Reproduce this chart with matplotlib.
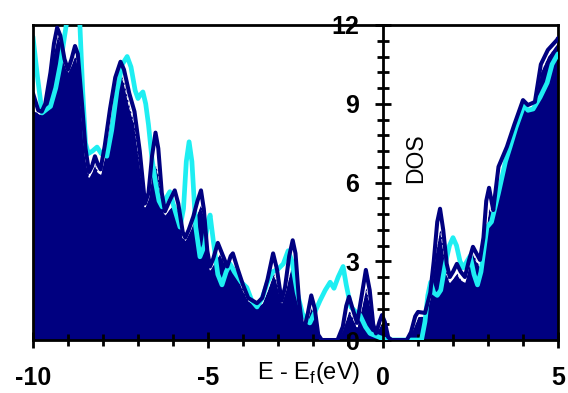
import matplotlib
matplotlib.use("Agg")
import matplotlib.pyplot as plt
from matplotlib.ticker import MultipleLocator

# ---- data ----
navy_x = [-10.0, -9.85, -9.75, -9.65, -9.5, -9.4, -9.31, -9.22, -9.1, -9.0, -8.9, -8.8, -8.72, -8.6, -8.5,
          -8.4, -8.32, -8.23, -8.15, -8.07, -7.95, -7.8, -7.65, -7.5, -7.4, -7.25, -7.1, -6.95, -6.8, -6.7,
          -6.6, -6.5, -6.42, -6.32, -6.23, -6.1, -5.95, -5.85, -5.72, -5.65, -5.55, -5.42, -5.3, -5.2, -5.12,
          -5.02, -4.94, -4.85, -4.72, -4.6, -4.45, -4.35, -4.29, -4.15, -4.0, -3.85, -3.6, -3.45, -3.3, -3.14,
          -3.03, -2.9, -2.8, -2.68, -2.58, -2.5, -2.4, -2.28, -2.15, -2.05, -1.95, -1.85, -1.75, -1.3, -1.15,
          -1.05, -0.97, -0.87, -0.74, -0.62, -0.49, -0.38, -0.28, -0.2, -0.1, -0.03, 0.05, 0.15, 0.25, 0.68,
          0.8, 0.92, 1.0, 1.2, 1.35, 1.45, 1.55, 1.63, 1.72, 1.82, 1.91, 2.0, 2.11, 2.22, 2.34,
          2.45, 2.57, 2.67, 2.77, 2.87, 2.95, 3.03, 3.1, 3.15, 3.3, 3.54, 3.75, 4.0, 4.14, 4.34,
          4.51, 4.71, 4.97, 5.0]
navy_y = [9.4, 8.75, 8.7, 9.0, 10.2, 11.3, 11.9, 11.6, 10.7, 10.3, 10.7, 11.2, 10.9, 9.0, 7.3,
          6.4, 6.6, 7.0, 6.7, 6.5, 7.4, 8.8, 10.0, 10.6, 10.3, 9.4, 8.7, 7.2, 5.2, 5.6,
          7.0, 7.9, 7.3, 5.6, 4.9, 5.3, 5.7, 5.2, 4.1, 3.9, 4.2, 4.7, 5.3, 5.7, 5.0,
          3.4, 2.8, 3.1, 3.7, 3.3, 2.8, 3.2, 3.3, 2.7, 2.1, 1.6, 1.4, 1.6, 2.3, 3.3,
          2.7, 1.5, 2.0, 3.2, 3.8, 3.3, 1.5, 0.25, 1.0, 1.7, 1.2, 0.2, 0.0, 0.0, 0.5,
          1.3, 1.65, 1.2, 0.65, 1.6, 2.67, 1.9, 0.6, 0.25, 0.7, 0.95, 0.7, 0.1, 0.0, 0.0,
          0.3, 0.9, 1.07, 1.03, 1.8, 3.0, 4.5, 5.0, 4.2, 2.9, 2.4, 2.6, 2.9, 2.6, 2.4,
          3.0, 3.55, 3.3, 3.05, 3.9, 5.3, 5.8, 5.3, 4.95, 6.6, 7.36, 8.2, 9.14, 8.95, 9.07,
          10.5, 11.05, 11.43, 11.5]

cyan_x = [-10.0, -9.87, -9.74, -9.6, -9.5, -9.35, -9.22, -9.14, -9.05, -8.95, -8.85, -8.75, -8.66, -8.58, -8.5,
          -8.42, -8.3, -8.17, -8.05, -7.89, -7.75, -7.6, -7.45, -7.31, -7.2, -7.08, -7.0, -6.93, -6.86, -6.78,
          -6.7, -6.6, -6.5, -6.4, -6.31, -6.2, -6.09, -5.98, -5.8, -5.7, -5.62, -5.54, -5.46, -5.35, -5.23,
          -5.1, -5.0, -4.94, -4.85, -4.72, -4.6, -4.48, -4.37, -4.25, -4.05, -3.89, -3.75, -3.6, -3.45, -3.3,
          -3.15, -3.0, -2.85, -2.71, -2.6, -2.45, -2.3, -2.15, -2.09, -2.0, -1.8, -1.65, -1.51, -1.4, -1.28,
          -1.14, -1.05, -0.92, -0.8, -0.66, -0.5, -0.37, -0.1, 0.1, 1.1, 1.2, 1.28, 1.36, 1.45, 1.55,
          1.65, 1.78, 1.9, 2.0, 2.1, 2.2, 2.29, 2.4, 2.49, 2.6, 2.7, 2.8, 2.9, 2.97, 3.1,
          3.3, 3.5, 3.63, 3.8, 4.03, 4.14, 4.29, 4.49, 4.69, 4.83, 5.0]
cyan_y = [11.55, 10.0, 8.65, 8.8, 8.9, 9.6, 10.5, 11.2, 12.0, 12.6, 12.8, 12.5, 12.0, 9.5, 7.5,
          7.1, 7.2, 7.35, 7.1, 7.0, 8.0, 9.5, 10.5, 10.8, 10.4, 9.5, 9.2, 9.35, 9.45, 9.0,
          8.2, 6.9, 6.0, 5.3, 5.07, 5.4, 5.65, 5.1, 4.3, 5.0, 6.8, 7.55, 6.8, 4.3, 3.17,
          3.6, 4.5, 4.76, 3.8, 2.5, 2.1, 2.6, 2.9, 2.6, 2.2, 2.0, 1.5, 1.26, 1.6, 2.2,
          2.6, 2.7, 2.9, 3.4, 3.0, 1.8, 1.0, 0.7, 0.65, 0.9, 1.5, 1.9, 2.2, 1.97, 2.4,
          2.8, 2.1, 1.26, 1.1, 0.95, 0.5, 0.25, 0.1, 0.0, 0.0, 0.7, 1.7, 2.2, 1.8, 1.7,
          1.9, 2.9, 3.6, 3.9, 3.6, 3.0, 2.75, 3.0, 3.2, 2.5, 2.1, 2.6, 3.6, 4.3, 4.5,
          5.6, 6.8, 7.35, 8.1, 8.95, 8.75, 8.8, 9.25, 9.8, 10.5, 10.9]

fill_x = [-10.0, -9.8, -9.7, -9.55, -9.4, -9.3, -9.2, -9.1, -9.0, -8.9, -8.8, -8.7, -8.6, -8.5, -8.4,
          -8.32, -8.23, -8.15, -8.07, -7.95, -7.8, -7.65, -7.51, -7.4, -7.25, -7.1, -6.95, -6.8, -6.7, -6.6,
          -6.51, -6.42, -6.32, -6.23, -6.1, -5.95, -5.85, -5.72, -5.65, -5.5, -5.35, -5.2, -5.1, -5.0, -4.94,
          -4.8, -4.66, -4.55, -4.43, -4.29, -4.15, -4.0, -3.85, -3.6, -3.45, -3.3, -3.13, -3.03, -2.9, -2.78,
          -2.58, -2.48, -2.38, -2.28, -2.15, -2.05, -1.95, -1.85, -1.75, -1.3, -1.15, -0.97, -0.85, -0.74, -0.6,
          -0.49, -0.38, -0.28, -0.2, -0.1, -0.03, 0.05, 0.15, 0.25, 0.7, 0.85, 1.0, 1.2, 1.35, 1.5,
          1.63, 1.73, 1.82, 1.91, 2.0, 2.11, 2.22, 2.34, 2.45, 2.57, 2.67, 2.77, 2.9, 3.03, 3.15,
          3.3, 3.54, 3.75, 4.0, 4.15, 4.34, 4.5, 4.7, 5.0]
fill_y = [8.76, 8.6, 8.8, 9.9, 11.0, 11.6, 11.3, 10.5, 10.2, 10.5, 10.86, 10.4, 8.5, 6.9, 6.2,
          6.4, 6.7, 6.4, 6.3, 7.0, 8.3, 9.6, 10.2, 9.8, 8.9, 8.2, 6.7, 5.07, 5.4, 6.3,
          6.7, 6.3, 5.1, 4.76, 5.0, 5.2, 4.8, 3.9, 3.8, 4.2, 4.7, 5.2, 4.5, 3.1, 2.67,
          3.0, 3.3, 3.0, 2.67, 2.9, 2.4, 1.9, 1.5, 1.26, 1.4, 1.9, 2.55, 2.2, 1.4, 1.9,
          3.05, 2.5, 1.2, 0.25, 0.8, 1.26, 0.9, 0.15, 0.0, 0.0, 0.4, 1.14, 0.8, 0.5, 1.3,
          2.0, 1.4, 0.5, 0.25, 0.5, 0.65, 0.5, 0.1, 0.0, 0.0, 0.4, 0.9, 0.9, 1.6, 3.3,
          4.3, 3.4, 2.5, 2.2, 2.35, 2.55, 2.3, 2.2, 2.8, 3.3, 3.0, 2.8, 3.8, 5.07, 4.7,
          5.9, 7.2, 8.1, 8.9, 8.7, 8.9, 10.2, 10.8, 11.35]

x_ticks = [-10, -5, 0, 5]
y_ticks = [0, 3, 6, 9, 12]

NAVY = "#000080"
CYAN = "#1EEEF2"

fig = plt.figure(figsize=(5.68, 3.93), dpi=100)
ax = fig.add_axes([33 / 568, 1 - 340 / 393, 525 / 568, 315 / 393])

ax.fill_between(fill_x, 0, fill_y, color=NAVY, lw=0, zorder=1)
ax.plot(fill_x, fill_y, color="white", lw=0.7, ls=(0, (4, 2)), zorder=2)
ax.plot(cyan_x, cyan_y, color=CYAN, lw=3.4, zorder=3, solid_joinstyle="round", solid_capstyle="round")
ax.plot(navy_x, navy_y, color=NAVY, lw=2.9, zorder=4, solid_joinstyle="round", solid_capstyle="round")

ax.set_xlim(-10, 5)
ax.set_ylim(0, 12)

for s in ["top", "right", "bottom", "left"]:
    ax.spines[s].set_linewidth(2)
    ax.spines[s].set_color("black")
ax.spines["left"].set_position(("data", 0))
ax.spines["left"].set_zorder(6)
ax.plot([-10, -10], [0, 12], color="black", lw=2, clip_on=False, zorder=6)

ax.set_xticks(x_ticks)
ax.set_yticks(y_ticks)
ax.xaxis.set_minor_locator(MultipleLocator(1))
ax.yaxis.set_minor_locator(MultipleLocator(0.6))
ax.tick_params(axis="x", which="major", direction="inout", length=11, width=2, pad=13)
ax.tick_params(axis="x", which="minor", direction="inout", length=8, width=2)
ax.tick_params(axis="y", which="major", direction="inout", length=12, width=2, pad=11)
ax.tick_params(axis="y", which="minor", direction="inout", length=9, width=2)
ax.tick_params(axis="both", which="both", zorder=6)

ax.set_xticklabels([str(v) for v in x_ticks], fontsize=18, fontweight="bold", family="Liberation Sans")
ax.set_yticklabels([str(v) for v in y_ticks], fontsize=18, fontweight="bold", family="Liberation Sans")

ax.text(309 / 568, 1 - 373 / 393, "E - E$_\\mathregular{f}$(eV)", transform=fig.transFigure,
        ha="center", va="center", fontsize=17, family="Liberation Sans")
ax.text(0.94, 6.93, "DOS", rotation=90, ha="center", va="center", fontsize=16.5,
        family="Liberation Sans", zorder=7)

fig.savefig("out.png", dpi=100)
